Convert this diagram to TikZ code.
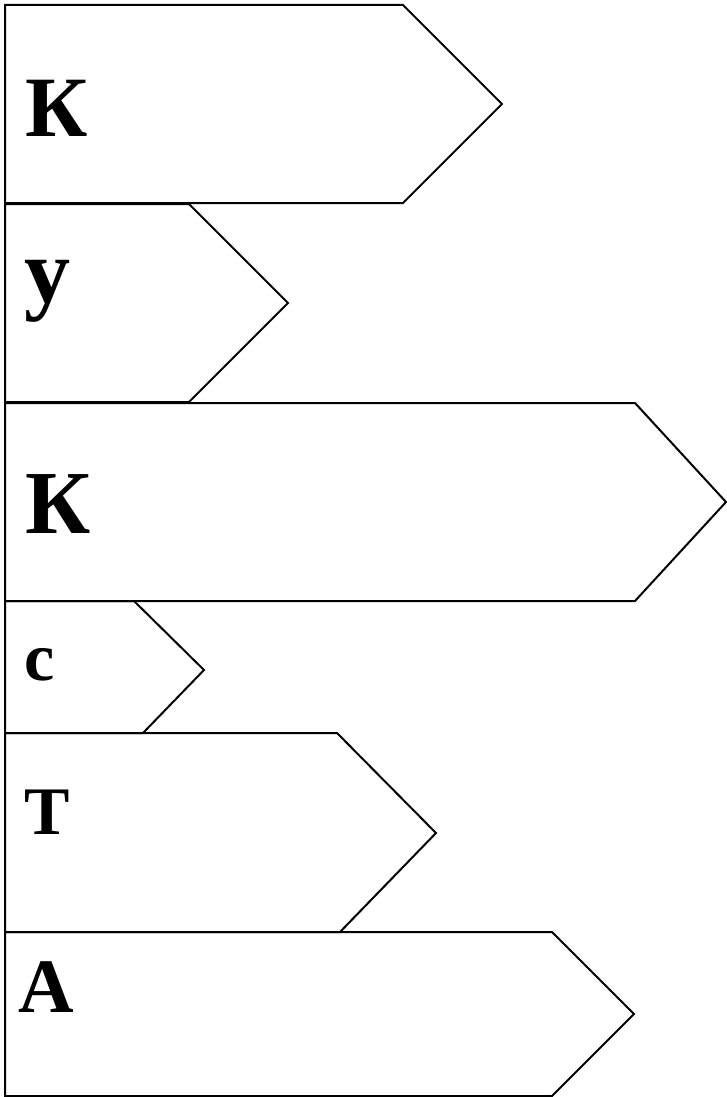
\documentclass[tikz,border=0pt]{standalone}
\usepackage{fontspec}
\setmainfont{Liberation Serif}
\begin{document}
\begin{tikzpicture}[x=1pt,y=-1pt,
  arrowshape/.style={draw=black,line width=2pt,line join=miter},
  lbl/.style={anchor=base west,inner sep=0pt,font=\bfseries}]
\useasboundingbox (0,0) rectangle (727,1097);
% shapes
\draw[arrowshape] (5,5) -- (403,5) -- (502,104) -- (403,203) -- (5,203) -- cycle;
\draw[arrowshape] (5,204) -- (189,204) -- (288,303) -- (189,402) -- (5,402) -- cycle;
\draw[arrowshape] (5,403) -- (635,403) -- (726,502) -- (635,601) -- (5,601) -- cycle;
\draw[arrowshape] (5,601) -- (134,601) -- (204,670) -- (143,733) -- (5,733) -- cycle;
\draw[arrowshape] (5,733) -- (337,733) -- (436,833) -- (340,932) -- (5,932) -- cycle;
\draw[arrowshape] (5,932) -- (552,932) -- (634,1014) -- (552,1096) -- (5,1096) -- cycle;
% labels
\node[lbl,font=\bfseries\fontsize{86}{86}\selectfont] (t1) at (25,136) {К};
\node[lbl,font=\bfseries\fontsize{92}{92}\selectfont] (t2) at (24,302) {у};
\node[lbl,font=\bfseries\fontsize{90}{90}\selectfont] (t3) at (25,533) {К};
\node[lbl,font=\bfseries\fontsize{68}{68}\selectfont] (t4) at (24,680) {с};
\node[lbl,font=\bfseries\fontsize{68}{68}\selectfont] (t5) at (24,834) {Т};
\node[lbl,font=\bfseries\fontsize{77}{77}\selectfont] (t6) at (18,1012) {А};
\end{tikzpicture}
\end{document}
